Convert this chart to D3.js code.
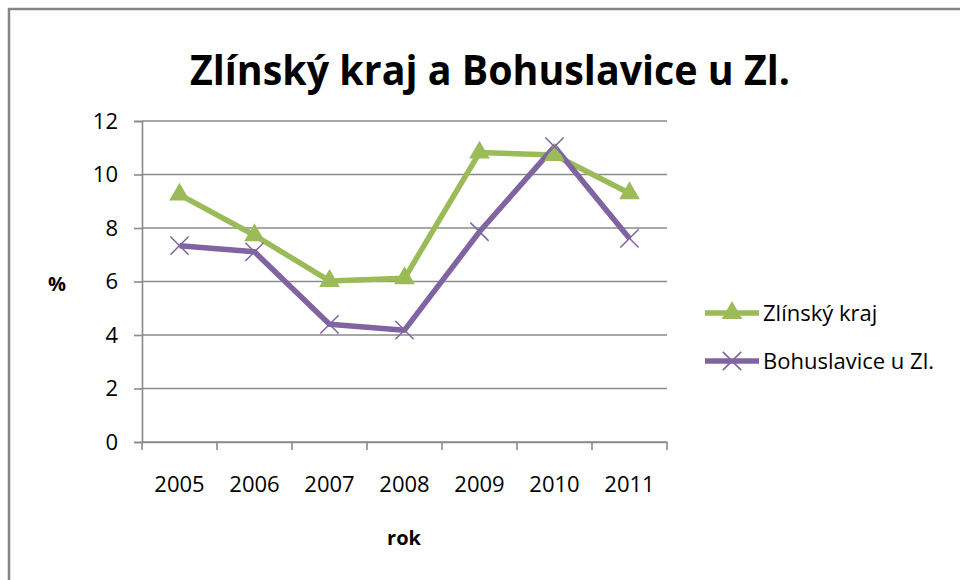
<!DOCTYPE html>
<html>
<head>
<meta charset="utf-8">
<script src="https://cdn.jsdelivr.net/npm/d3@7"></script>
<style>
  body { margin: 0; background: #fff; }
  text { font-family: "Open Sans", "Noto Sans", sans-serif; fill: #000; }
</style>
</head>
<body>
<div id="chart"></div>
<script>
///// DATA /////
var years = ["2005", "2006", "2007", "2008", "2009", "2010", "2011"];
var zlinsky = [9.25, 7.73, 6.02, 6.12, 10.82, 10.73, 9.3];
var bohuslavice = [7.34, 7.11, 4.4, 4.18, 7.86, 11.04, 7.61];
var yTicks = [0, 2, 4, 6, 8, 10, 12];
var seriesNames = ["Zlínský kraj", "Bohuslavice u Zl."];
var seriesColors = ["#9BBB59", "#8064A2"];

var width = 960;
var height = 580;

var svg = d3.select("#chart").append("svg")
  .attr("width", width)
  .attr("height", height);

svg.append("rect")
  .attr("width", "100%")
  .attr("height", "100%")
  .attr("fill", "#fff");

// outer chart border (only left and top visible)
svg.append("path")
  .attr("d", "M9,590 L9,9 L970,9")
  .attr("fill", "none")
  .attr("stroke", "#868686")
  .attr("stroke-width", 2.5);

var margin = { top: 121, left: 142, right: 293, bottom: 138 };
var plotW = width - margin.left - margin.right;
var plotH = height - margin.top - margin.bottom;

var x = d3.scaleBand()
  .domain(years)
  .range([0, plotW]);

var y = d3.scaleLinear()
  .domain([0, 12])
  .range([plotH, 0]);

var g = svg.append("g")
  .attr("transform", "translate(" + margin.left + "," + margin.top + ")");

// gridlines
g.selectAll(".grid")
  .data(yTicks)
  .enter().append("line")
  .attr("x1", 0)
  .attr("x2", plotW)
  .attr("y1", function (d) { return y(d); })
  .attr("y2", function (d) { return y(d); })
  .attr("stroke", "#8a8a8a")
  .attr("stroke-width", 1.6);

// y axis
var yAxis = g.append("g")
  .call(d3.axisLeft(y).tickValues(yTicks).tickSize(8).tickPadding(16));
yAxis.select(".domain").attr("stroke", "#8a8a8a").attr("stroke-width", 1.6);
yAxis.selectAll(".tick line").attr("stroke", "#8a8a8a").attr("stroke-width", 1.6);
yAxis.selectAll("text").style("font-size", "22px").attr("font-family", "'Open Sans', sans-serif");

// x axis
var xAxis = g.append("g")
  .attr("transform", "translate(0," + plotH + ")")
  .call(d3.axisBottom(x).tickSize(0).tickPadding(34));
xAxis.select(".domain").attr("stroke", "#8a8a8a").attr("stroke-width", 1.6);
xAxis.selectAll("text").style("font-size", "22px").attr("font-family", "'Open Sans', sans-serif");

// x ticks between categories
var bounds = years.map(function (d) { return x(d); }).concat([plotW]);
g.selectAll(".xtick")
  .data(bounds)
  .enter().append("line")
  .attr("x1", function (d) { return d; })
  .attr("x2", function (d) { return d; })
  .attr("y1", plotH)
  .attr("y2", plotH + 8)
  .attr("stroke", "#8a8a8a")
  .attr("stroke-width", 1.6);

// lines
var line = d3.line()
  .x(function (d, i) { return x(years[i]) + x.bandwidth() / 2; })
  .y(function (d) { return y(d); });

var allSeries = [zlinsky, bohuslavice];

allSeries.forEach(function (vals, s) {
  g.append("path")
    .datum(vals)
    .attr("d", line)
    .attr("fill", "none")
    .attr("stroke", seriesColors[s])
    .attr("stroke-width", 5.5)
    .attr("stroke-linejoin", "round");
});

// markers
g.selectAll(".tri")
  .data(zlinsky)
  .enter().append("path")
  .attr("d", d3.symbol().type(d3.symbolTriangle).size(185))
  .attr("transform", function (d, i) {
    return "translate(" + (x(years[i]) + x.bandwidth() / 2) + "," + y(d) + ")";
  })
  .attr("fill", seriesColors[0]);

g.selectAll(".cross")
  .data(bohuslavice)
  .enter().append("path")
  .attr("d", d3.symbol().type(d3.symbolTimes).size(220))
  .attr("transform", function (d, i) {
    return "translate(" + (x(years[i]) + x.bandwidth() / 2) + "," + y(d) + ")";
  })
  .attr("fill", "none")
  .attr("stroke", seriesColors[1])
  .attr("stroke-width", 1.5);

// title
svg.append("text")
  .attr("x", 490)
  .attr("y", 85)
  .attr("text-anchor", "middle")
  .attr("textLength", 600)
  .attr("lengthAdjust", "spacingAndGlyphs")
  .style("font-size", "42px")
  .style("font-weight", "bold")
  .text("Zlínský kraj a Bohuslavice u Zl.");

// axis titles
svg.append("text")
  .attr("x", 57)
  .attr("y", 291)
  .attr("text-anchor", "middle")
  .style("font-size", "20px")
  .style("font-weight", "bold")
  .text("%");

svg.append("text")
  .attr("x", 404)
  .attr("y", 545)
  .attr("text-anchor", "middle")
  .style("font-size", "20px")
  .style("font-weight", "bold")
  .text("rok");

// legend
var legend = svg.append("g")
  .attr("transform", "translate(705,313)");

seriesNames.forEach(function (name, s) {
  var row = legend.append("g").attr("transform", "translate(0," + (s * 48) + ")");
  row.append("line")
    .attr("x1", 0).attr("x2", 54)
    .attr("stroke", seriesColors[s])
    .attr("stroke-width", 5.5);
  row.append("path")
    .attr("transform", "translate(27,0)")
    .attr("d", d3.symbol().type(s === 0 ? d3.symbolTriangle : d3.symbolTimes).size(s === 0 ? 185 : 220))
    .attr("fill", s === 0 ? seriesColors[s] : "none")
    .attr("stroke", s === 0 ? "none" : seriesColors[s])
    .attr("stroke-width", 1.5);
  row.append("text")
    .attr("x", 58)
    .attr("y", 8)
    .style("font-size", "22px")
    .text(name);
});
</script>
</body>
</html>
